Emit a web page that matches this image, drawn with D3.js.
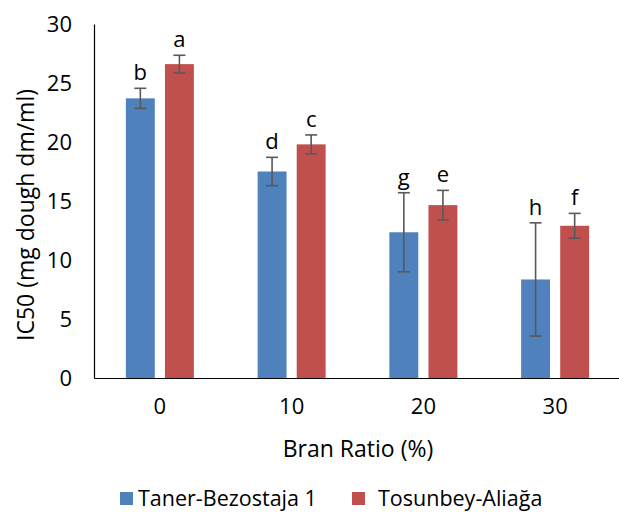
<!DOCTYPE html>
<html>
<head>
<meta charset="utf-8">
<script src="https://cdn.jsdelivr.net/npm/d3@7"></script>
<style>
  html, body { margin: 0; padding: 0; background: #fff; }
  svg text { font-family: "Open Sans", "Noto Sans", sans-serif; fill: #000; }
</style>
</head>
<body>
<svg id="chart" width="619" height="512"></svg>
<script>
// Bran ratio categories (%)
const categories = ["0", "10", "20", "30"];
const seriesNames = ["Taner-Bezostaja 1", "Tosunbey-Aliağa"];
const seriesColors = ["#4F81BD", "#C0504D"];
// IC50 means, error (±) and significance letters per series
const tanerValues = [23.7, 17.5, 12.35, 8.35];
const tanerErrors = [0.85, 1.2, 3.35, 4.8];
const tanerLetters = ["b", "d", "g", "h"];
const tosunValues = [26.6, 19.8, 14.65, 12.9];
const tosunErrors = [0.75, 0.8, 1.25, 1.05];
const tosunLetters = ["a", "c", "e", "f"];
const yTicks = [0, 5, 10, 15, 20, 25, 30];

const svg = d3.select("#chart");
const plot = { left: 94, right: 621, top: 24, bottom: 378 };

const x = d3.scaleBand().domain(categories).range([plot.left, plot.right]).paddingInner(0).paddingOuter(0);
const xs = d3.scaleBand().domain([0, 1]).range([0, 68]).paddingInner(0.26).paddingOuter(0);
const y = d3.scaleLinear().domain([0, 30]).range([plot.bottom, plot.top]);

const series = [
  { values: tanerValues, errors: tanerErrors, letters: tanerLetters },
  { values: tosunValues, errors: tosunErrors, letters: tosunLetters }
];

const rows = [];
series.forEach((s, si) => {
  categories.forEach((c, ci) => {
    rows.push({ si, c, v: s.values[ci], e: s.errors[ci], l: s.letters[ci] });
  });
});
const barX = d => x(d.c) + (x.bandwidth() - 68) / 2 + xs(d.si);

// Bars
svg.append("g").selectAll("rect").data(rows).join("rect")
  .attr("x", barX)
  .attr("y", d => y(d.v))
  .attr("width", xs.bandwidth())
  .attr("height", d => y(0) - y(d.v))
  .attr("fill", d => seriesColors[d.si]);

// Y axis (line only, no tick marks)
const yAxis = svg.append("g").attr("transform", `translate(${plot.left},0)`)
  .call(d3.axisLeft(y).tickValues(yTicks).tickSize(0).tickPadding(22));
yAxis.select(".domain").attr("stroke", "#000").attr("stroke-width", 1.2);
yAxis.selectAll("text").attr("font-size", 22).attr("font-family", "'Open Sans', sans-serif").attr("fill", "#000");

// X axis
const xAxis = svg.append("g").attr("transform", `translate(0,${plot.bottom})`)
  .call(d3.axisBottom(x).tickSize(0).tickPadding(20));
xAxis.select(".domain").attr("stroke", "#000").attr("stroke-width", 1.2);
xAxis.selectAll("text").attr("font-size", 22).attr("font-family", "'Open Sans', sans-serif").attr("fill", "#000");

// Error bars
const eg = svg.append("g").attr("stroke", "#595959").attr("stroke-width", 1.6).attr("fill", "none");
rows.forEach(d => {
  const cx = barX(d) + xs.bandwidth() / 2;
  const t = y(d.v + d.e), b = y(d.v - d.e);
  eg.append("line").attr("x1", cx).attr("x2", cx).attr("y1", t).attr("y2", b);
  eg.append("line").attr("x1", cx - 6).attr("x2", cx + 6).attr("y1", t).attr("y2", t);
  eg.append("line").attr("x1", cx - 6).attr("x2", cx + 6).attr("y1", b).attr("y2", b);
});

// Significance letters
svg.append("g").selectAll("text").data(rows).join("text")
  .attr("x", d => barX(d) + xs.bandwidth() / 2)
  .attr("y", d => y(d.v + d.e) - 8)
  .attr("text-anchor", "middle")
  .attr("font-size", 22)
  .text(d => d.l);

// Axis titles
svg.append("text")
  .attr("x", 358).attr("y", 457)
  .attr("text-anchor", "middle").attr("font-size", 23)
  .text("Bran Ratio (%)");
svg.append("text")
  .attr("transform", "translate(34,215) rotate(-90)")
  .attr("text-anchor", "middle").attr("font-size", 23)
  .text("IC50 (mg dough dm/ml)");

// Legend
const legendX = [120, 352];
const lg = svg.append("g");
seriesNames.forEach((n, i) => {
  lg.append("rect").attr("x", legendX[i]).attr("y", 492).attr("width", 13).attr("height", 13).attr("fill", seriesColors[i]);
  lg.append("text").attr("x", legendX[i] + (i === 0 ? 18 : 26)).attr("y", 506).attr("font-size", 21.5).text(n);
});
</script>
</body>
</html>
